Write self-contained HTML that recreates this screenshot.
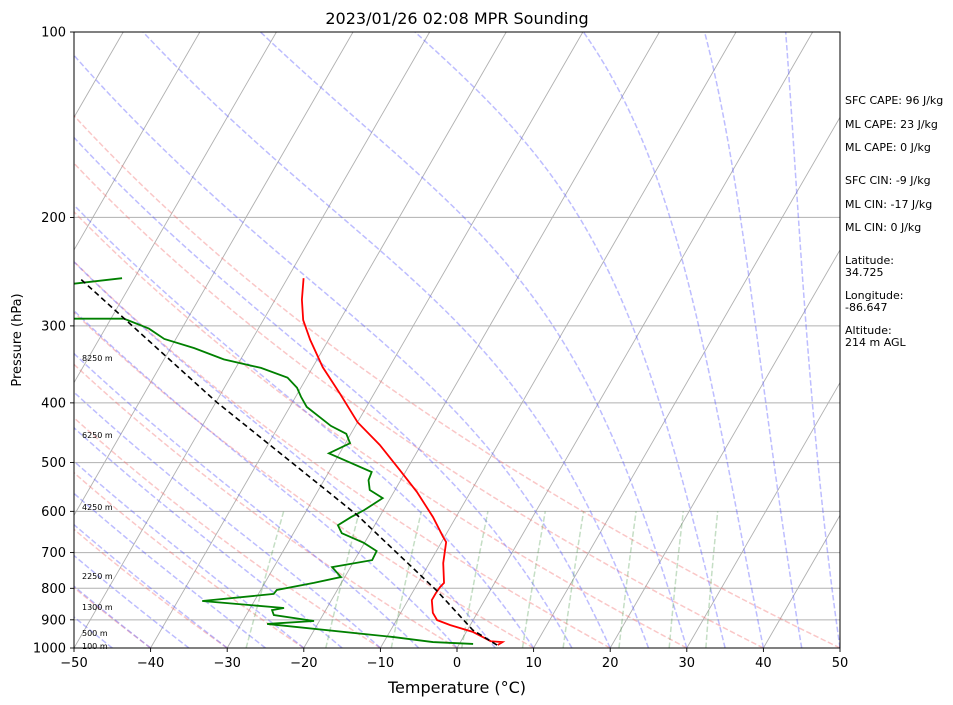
<!DOCTYPE html>
<html><head><meta charset="utf-8">
<style>
html,body{margin:0;padding:0;background:#fff;}
svg{display:block;font-family:"DejaVu Sans","Liberation Sans",sans-serif;}
</style></head>
<body>
<svg id="chart" width="953" height="705" viewBox="0 0 953 705" xmlns="http://www.w3.org/2000/svg">
<defs><clipPath id="plotclip"><rect x="74" y="32" width="766" height="616"/></clipPath></defs>
<text x="457" y="24" text-anchor="middle" font-size="16">2023/01/26 02:08 MPR Sounding</text>
<g id="bg" clip-path="url(#plotclip)"></g>
<g id="series" clip-path="url(#plotclip)"></g>
<rect x="74" y="32" width="766" height="616" fill="none" stroke="#000" stroke-width="1"/>
<g id="axes"></g>
<text x="457" y="693" text-anchor="middle" font-size="16">Temperature (°C)</text>
<text transform="translate(21,340) rotate(-90)" text-anchor="middle" font-size="13">Pressure (hPa)</text>
<g font-size="8" fill="#000">
<text x="82" y="361">8250 m</text>
<text x="82" y="438">6250 m</text>
<text x="82" y="510">4250 m</text>
<text x="82" y="579">2250 m</text>
<text x="82" y="610">1300 m</text>
<text x="82" y="636">500 m</text>
<text x="82" y="649">100 m</text>
</g>
<g font-size="11" fill="#000">
<text x="845" y="104">SFC CAPE: 96 J/kg</text>
<text x="845" y="128">ML CAPE: 23 J/kg</text>
<text x="845" y="151">ML CAPE: 0 J/kg</text>
<text x="845" y="184">SFC CIN: -9 J/kg</text>
<text x="845" y="208">ML CIN: -17 J/kg</text>
<text x="845" y="231">ML CIN: 0 J/kg</text>
<text x="845" y="264">Latitude:</text>
<text x="845" y="276">34.725</text>
<text x="845" y="299">Longitude:</text>
<text x="845" y="311">-86.647</text>
<text x="845" y="334">Altitude:</text>
<text x="845" y="346">214 m AGL</text>
</g>
</svg>
<script>
// ---- data ----
const tempP = [989,978,975,942,918,901,877,836,814,796,784,728,673,660,613,558,514,468,430,386,350,316,293.5,272,251];
const tempT = [5.1,5.5,3.9,0.9,-2.6,-4.7,-5.8,-6.9,-6.9,-6.8,-6.6,-8.2,-9.4,-10.2,-13.0,-17.0,-20.9,-25.4,-30.0,-34.5,-38.7,-42.4,-44.8,-46.5,-47.9];
const dewP = [985,978,960,914,904,884,868,861,839,817,805,784,767,739,720,696,675,651,632,613,597,571,554,534,518,483,465,449,436,406,391,378,364,351,340,326,315,303,292,292,283,260,251];
const dewT = [1.8,-3.6,-9.1,-26.6,-20.7,-26.4,-27.0,-25.6,-36.8,-28.0,-27.9,-23.6,-20.5,-22.4,-17.7,-17.8,-20.1,-23.7,-24.8,-23.7,-22.5,-21.0,-23.3,-24.2,-24.4,-31.4,-29.4,-30.6,-33.2,-37.8,-39.3,-40.5,-42.5,-46.7,-52.2,-56.9,-61.5,-64.3,-68.3,-74.8,-81.2,-81.6,-71.6];
const parcelP = [989,935,808,608,399,252];
const parcelT = [5.0,0.7,-6.9,-23.1,-49.9,-76.9];
const pTicks = [100,200,300,400,500,600,700,800,900,1000];
const tTicks = [-50,-40,-30,-20,-10,0,10,20,30,40,50];
const dryT0 = [-50,-40,-30,-20,-10,0,10,20,30,40,50];
const moistT0 = [-50,-45,-40,-35,-30,-25,-20,-15,-10,-5,0,5,10,15,20,25,30,35,40,45,50];
const mixW = [0.0004,0.001,0.002,0.004,0.007,0.01,0.016,0.024,0.032];

// ---- axes ----
const X0=74,X1=840,Y0=32,Y1=648;
const pxPerC=(X1-X0)/100, skew=Math.tan(30*Math.PI/180);
function yOf(p){return Y1-Math.log10(1000/p)*(Y1-Y0);}
function xOf(t,p){return X0+(t+50)*pxPerC+(Y1-yOf(p))*skew;}
const NS="http://www.w3.org/2000/svg";
const bg=document.getElementById('bg'),series=document.getElementById('series'),axes=document.getElementById('axes');
function mk(tag,attrs,parent){const e=document.createElementNS(NS,tag);for(const k in attrs)e.setAttribute(k,attrs[k]);parent.appendChild(e);return e;}
function pathFrom(ps,ts){let d='';for(let i=0;i<ps.length;i++){d+=(i?'L':'M')+xOf(ts[i],ps[i]).toFixed(2)+' '+yOf(ps[i]).toFixed(2);}return d;}

// isobars
pTicks.forEach(p=>{
  const l=mk('line',{x1:X0,x2:X1,y1:yOf(p),y2:yOf(p),stroke:'#b0b0b0','stroke-width':1},bg);
  
  
});
// isotherms
for(let t=-140;t<=50;t+=10){
  const l=mk('line',{x1:xOf(t,1000),y1:yOf(1000),x2:xOf(t,100),y2:yOf(100),stroke:'#b0b0b0','stroke-width':0.9},bg);
  
  
}
const lev=[];for(let lp=Math.log(1000);lp>=Math.log(100)-1e-9;lp-=(Math.log(10))/200)lev.push(Math.exp(lp));
// dry adiabats
dryT0.forEach(t0=>{
  const th=t0+273.15;const ts=lev.map(p=>th*Math.pow(p/1000,0.2857)-273.15);
  const e=mk('path',{d:pathFrom(lev,ts),fill:'none',stroke:'#f26b6b','stroke-opacity':0.38,'stroke-width':1.5,'stroke-dasharray':'5.5,2.5'},bg);
  
  
});
// moist adiabats
function es(tc){return 6.112*Math.exp(17.67*tc/(tc+243.5));}
function moistLapse(T,p){const Rd=287.04,Cp=1005.7,Lv=2.501e6,eps=0.622;const rs=eps*es(T-273.15)/(p-es(T-273.15));
  return (1/p)*(Rd*T+Lv*rs)/(Cp+Lv*Lv*rs*eps/(Rd*T*T));}
moistT0.forEach(t0=>{
  let T=t0+273.15;const ts=[T-273.15];
  for(let i=1;i<lev.length;i++){const dp=lev[i]-lev[i-1];const n=4;for(let k=0;k<n;k++){const p=lev[i-1]+dp*k/n;T+=moistLapse(T,p)*dp/n;}ts.push(T-273.15);}
  const e=mk('path',{d:pathFrom(lev,ts),fill:'none',stroke:'#5a5aff','stroke-opacity':0.4,'stroke-width':1.5,'stroke-dasharray':'5.5,2.5'},bg);
  
  
});
// mixing ratio lines
const mlev=[1000,900,800,700,600];
mixW.forEach(w=>{
  const ts=mlev.map(p=>{const e=w*p/(0.622+w);const a=Math.log(e/6.112);return 243.5*a/(17.67-a);});
  const e=mk('path',{d:pathFrom(mlev,ts),fill:'none',stroke:'#5aa05a','stroke-opacity':0.35,'stroke-width':1.5,'stroke-dasharray':'5.5,2.5'},bg);
  
  
});
// series
const tl=mk('path',{d:pathFrom(tempP,tempT),fill:'none',stroke:'#ff0000','stroke-width':1.8},series);


const dl=mk('path',{d:pathFrom(dewP,dewT),fill:'none',stroke:'#008000','stroke-width':1.8},series);


const pl=mk('path',{d:pathFrom(parcelP,parcelT),fill:'none',stroke:'#000','stroke-width':1.6,'stroke-dasharray':'5.5,3.5'},series);


// ticks
pTicks.forEach(p=>{
  const y=yOf(p);
  const t=mk('line',{x1:X0-4,x2:X0,y1:y,y2:y,stroke:'#000','stroke-width':0.9},axes);
  
  
  const tx=mk('text',{x:X0-8,y:y+4.5,'text-anchor':'end','font-size':13},axes);tx.textContent=p;
  
  
});
tTicks.forEach(tv=>{
  const x=X0+(tv+50)*pxPerC;
  const t=mk('line',{x1:x,x2:x,y1:Y1,y2:Y1+4,stroke:'#000','stroke-width':0.9},axes);
  
  
  const tx=mk('text',{x:x,y:Y1+19,'text-anchor':'middle','font-size':13},axes);tx.textContent=(tv<0?'\u2212'+(-tv):tv);
  
  
});
</script>
</body></html>
